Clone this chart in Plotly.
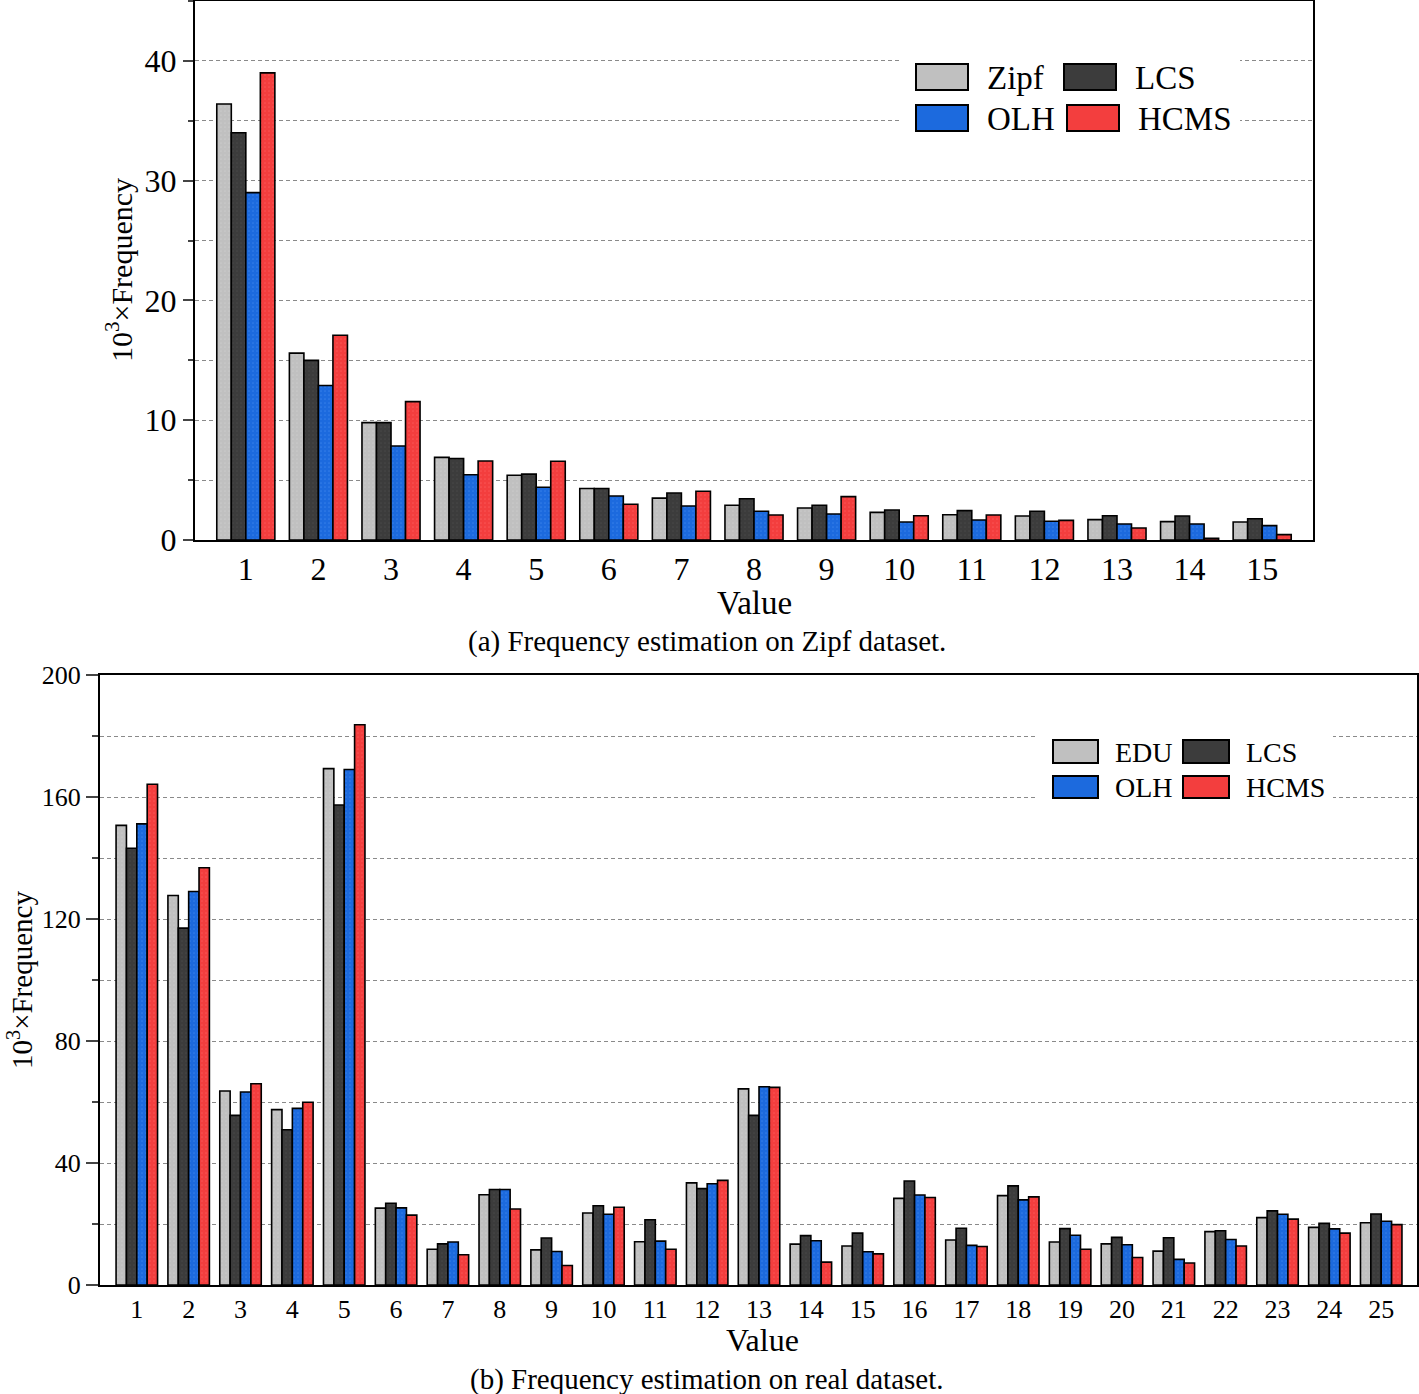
import plotly.graph_objects as go

# (a) Zipf dataset, values 1..15 (x 10^3 frequency)
values_a = list(range(1, 16))
zipf = [36.4, 15.6, 9.8, 6.9, 5.4, 4.3, 3.5, 2.9, 2.67, 2.31, 2.11, 2.0, 1.7, 1.53, 1.5]
lcs_a = [34.0, 15.0, 9.8, 6.8, 5.5, 4.3, 3.92, 3.45, 2.9, 2.5, 2.45, 2.4, 2.03, 2.0, 1.78]
olh_a = [29.0, 12.9, 7.85, 5.45, 4.4, 3.67, 2.84, 2.4, 2.17, 1.5, 1.67, 1.56, 1.34, 1.34, 1.2]
hcms_a = [39.0, 17.1, 11.55, 6.6, 6.57, 2.98, 4.07, 2.09, 3.62, 2.03, 2.09, 1.64, 1.0, 0.15, 0.45]

# (b) real dataset, values 1..25
values_b = list(range(1, 26))
edu = [150.7, 127.7, 63.6, 57.5, 169.3, 25.2, 11.7, 29.6, 11.5, 23.6, 14.2, 33.5, 64.3,
       13.4, 12.8, 28.4, 14.75, 29.3, 14.1, 13.5, 11.1, 17.5, 22.1, 18.9, 20.4]
lcs_b = [143.2, 117.0, 55.6, 50.9, 157.4, 26.8, 13.5, 31.3, 15.4, 26.0, 21.4, 31.6, 55.6,
         16.2, 17.0, 34.1, 18.6, 32.5, 18.5, 15.6, 15.5, 17.8, 24.3, 20.2, 23.3]
olh_b = [151.2, 129.0, 63.3, 57.9, 169.0, 25.3, 14.1, 31.3, 11.0, 23.2, 14.4, 33.2, 65.0,
         14.5, 10.9, 29.5, 13.0, 27.9, 16.3, 13.2, 8.4, 14.9, 23.2, 18.4, 20.9]
hcms_b = [164.2, 136.8, 66.0, 59.9, 183.7, 22.9, 9.9, 24.9, 6.4, 25.5, 11.7, 34.3, 64.8,
          7.5, 10.2, 28.7, 12.6, 28.9, 11.7, 9.0, 7.2, 12.8, 21.6, 17.0, 19.8]

W, H = 1419, 1394
FONT = "Liberation Serif, Times New Roman, serif"

# fill colour, dot colour
GRAY = ('#c0c0c0', '#d2d2d2')
DARK = ('#3c3c3c', '#505050')
BLUE = ('#1c6ade', '#4a8ff0')
RED = ('#f33e3e', '#ff6666')


def px(x):
    return x / W


def py(y):
    return 1 - y / H


def bar(x, y, name, col, xa, ya):
    return go.Bar(
        x=x, y=y, name=name, xaxis=xa, yaxis=ya, showlegend=False,
        marker=dict(color=col[0], line=dict(color='black', width=1.6),
                    pattern=dict(shape='.', bgcolor=col[0], fgcolor=col[1],
                                 size=4, solidity=0.15)),
    )


fig = go.Figure()
fig.add_trace(bar(values_a, zipf, 'Zipf', GRAY, 'x', 'y'))
fig.add_trace(bar(values_a, lcs_a, 'LCS', DARK, 'x', 'y'))
fig.add_trace(bar(values_a, olh_a, 'OLH', BLUE, 'x', 'y'))
fig.add_trace(bar(values_a, hcms_a, 'HCMS', RED, 'x', 'y'))
fig.add_trace(bar(values_b, edu, 'EDU', GRAY, 'x2', 'y2'))
fig.add_trace(bar(values_b, lcs_b, 'LCS', DARK, 'x2', 'y2'))
fig.add_trace(bar(values_b, olh_b, 'OLH', BLUE, 'x2', 'y2'))
fig.add_trace(bar(values_b, hcms_b, 'HCMS', RED, 'x2', 'y2'))

grid = dict(showgrid=True, gridcolor='#8a8a8a', gridwidth=1, griddash='4px,3px')
ax_common = dict(showline=True, linecolor='black', linewidth=2, mirror=True,
                 zeroline=False, automargin=False)

fig.update_layout(
    width=W, height=H,
    margin=dict(l=0, r=0, t=0, b=0, autoexpand=False),
    paper_bgcolor='white', plot_bgcolor='white',
    barmode='group', bargap=0.2, bargroupgap=0,
    font=dict(family=FONT, color='black'),
    xaxis=dict(domain=[px(195), px(1313)], anchor='y', range=[0.3, 15.7],
               tickvals=values_a, ticks='', showgrid=False,
               tickfont=dict(size=32), **ax_common),
    yaxis=dict(domain=[py(540), py(1)], anchor='x', range=[0, 45],
               tickvals=[0, 10, 20, 30, 40], ticks='outside', ticklen=10, tickwidth=2,
               tickfont=dict(size=32),
               minor=dict(dtick=5, ticks='outside', ticklen=5, tickwidth=2, **grid),
               **grid, **ax_common),
    xaxis2=dict(domain=[px(100), px(1417)], anchor='y2', range=[0.29, 25.69],
                tickvals=values_b, ticks='', showgrid=False,
                tickfont=dict(size=26), **ax_common),
    yaxis2=dict(domain=[py(1285), py(675)], anchor='x2', range=[0, 200],
                tickvals=[0, 40, 80, 120, 160, 200], ticks='outside', ticklen=12, tickwidth=2,
                tickfont=dict(size=26),
                minor=dict(dtick=20, ticks='outside', ticklen=6, tickwidth=2, **grid),
                **grid, **ax_common),
)

shapes = []
annotations = []


def text(x, y, s, size, angle=0, xanchor='center'):
    annotations.append(dict(x=px(x), y=py(y), xref='paper', yref='paper', text=s,
                            showarrow=False, textangle=angle, xanchor=xanchor,
                            yanchor='middle', font=dict(size=size, family=FONT)))


def swatch(x0, y0, x1, y1, col):
    shapes.append(dict(type='rect', xref='paper', yref='paper', layer='above',
                       x0=px(x0), x1=px(x1), y0=py(y1), y1=py(y0),
                       fillcolor=col[0], line=dict(color='black', width=2)))


# legend (a)
shapes.append(dict(type='rect', xref='paper', yref='paper', layer='above',
                   x0=px(900), x1=px(1240), y0=py(142), y1=py(48),
                   fillcolor='white', line=dict(width=0)))
swatch(916, 64, 968, 90, GRAY)
swatch(1064, 64, 1116, 90, DARK)
swatch(916, 105, 968, 131, BLUE)
swatch(1067, 105, 1119, 131, RED)
text(985, 78, 'Zipf', 33, xanchor='left')
text(1133, 78, 'LCS', 33, xanchor='left')
text(985, 119, 'OLH', 33, xanchor='left')
text(1136, 119, 'HCMS', 33, xanchor='left')

# legend (b)
shapes.append(dict(type='rect', xref='paper', yref='paper', layer='above',
                   x0=px(1037), x1=px(1333), y0=py(808), y1=py(726),
                   fillcolor='white', line=dict(width=0)))
swatch(1053, 740, 1098, 763, GRAY)
swatch(1183, 740, 1229, 763, DARK)
swatch(1053, 776, 1098, 798, BLUE)
swatch(1183, 776, 1229, 798, RED)
text(1113, 752, 'EDU', 28, xanchor='left')
text(1244, 752, 'LCS', 28, xanchor='left')
text(1113, 787, 'OLH', 28, xanchor='left')
text(1244, 787, 'HCMS', 28, xanchor='left')

# axis titles and captions
text(755, 603, 'Value', 33)
text(119, 270, '10<sup>3</sup>×Frequency', 30, angle=-90)
text(707, 641, '(a) Frequency estimation on Zipf dataset.', 29)
text(763, 1340, 'Value', 32)
text(20, 980, '10<sup>3</sup>×Frequency', 29, angle=-90)
text(707, 1379, '(b) Frequency estimation on real dataset.', 29)

fig.update_layout(shapes=shapes, annotations=annotations)

# drop the default body margin so the figure sits at the page origin
fig.write_html("out.html", config={'displayModeBar': False},
               post_script="document.body.style.margin='0';")
